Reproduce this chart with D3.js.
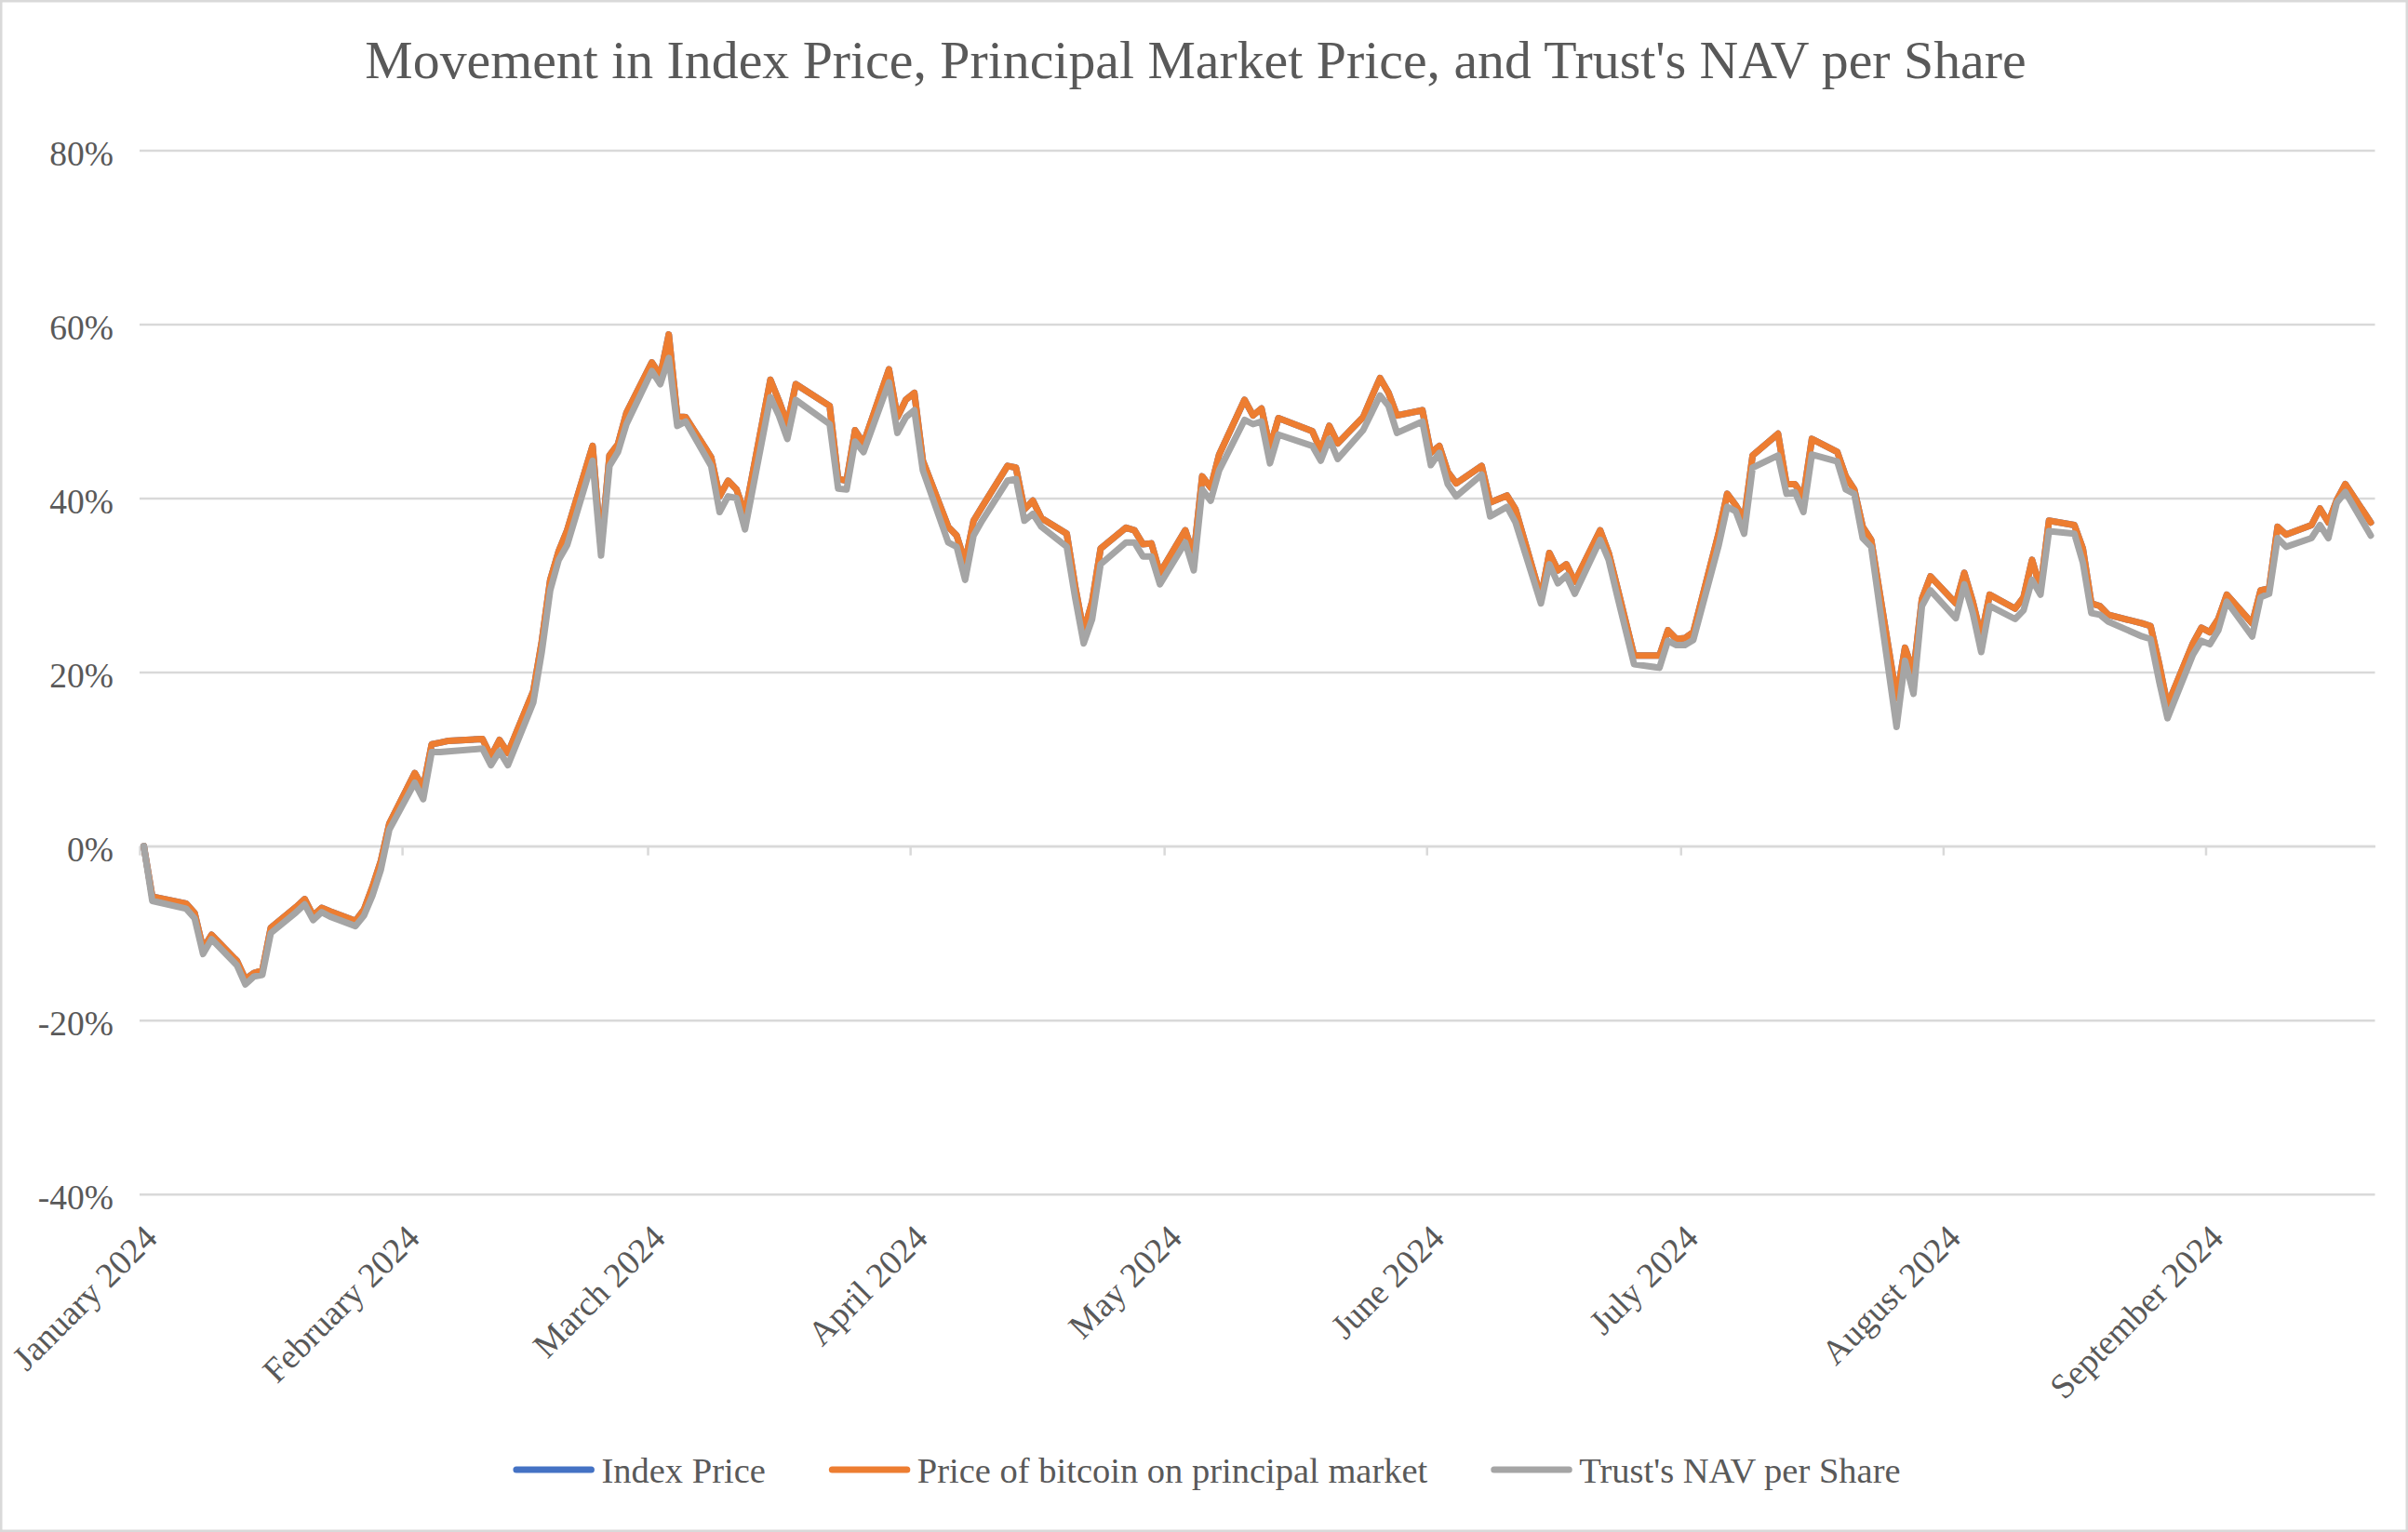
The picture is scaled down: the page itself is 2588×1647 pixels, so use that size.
<!DOCTYPE html>
<html><head><meta charset="utf-8">
<script src="https://cdn.jsdelivr.net/npm/d3@7"></script>
<style>html,body{margin:0;padding:0;background:#fff;} svg{display:block;}</style>
</head><body>
<script>
const dates = [
"2024-01-11","2024-01-12","2024-01-16","2024-01-17","2024-01-18","2024-01-19","2024-01-22","2024-01-23","2024-01-24","2024-01-25","2024-01-26","2024-01-29","2024-01-30","2024-01-31",
"2024-02-01","2024-02-02","2024-02-05","2024-02-06","2024-02-07","2024-02-08","2024-02-09","2024-02-12","2024-02-13","2024-02-14","2024-02-15","2024-02-16","2024-02-20","2024-02-21","2024-02-22","2024-02-23","2024-02-26","2024-02-27","2024-02-28","2024-02-29",
"2024-03-01","2024-03-04","2024-03-05","2024-03-06","2024-03-07","2024-03-08","2024-03-11","2024-03-12","2024-03-13","2024-03-14","2024-03-15","2024-03-18","2024-03-19","2024-03-20","2024-03-21","2024-03-22","2024-03-25","2024-03-26","2024-03-27","2024-03-28",
"2024-04-01","2024-04-02","2024-04-03","2024-04-04","2024-04-05","2024-04-08","2024-04-09","2024-04-10","2024-04-11","2024-04-12","2024-04-15","2024-04-16","2024-04-17","2024-04-18","2024-04-19","2024-04-22","2024-04-23","2024-04-24","2024-04-25","2024-04-26","2024-04-29","2024-04-30",
"2024-05-01","2024-05-02","2024-05-03","2024-05-06","2024-05-07","2024-05-08","2024-05-09","2024-05-10","2024-05-13","2024-05-14","2024-05-15","2024-05-16","2024-05-17","2024-05-20","2024-05-21","2024-05-22","2024-05-23","2024-05-24","2024-05-28","2024-05-29","2024-05-30","2024-05-31",
"2024-06-03","2024-06-04","2024-06-05","2024-06-06","2024-06-07","2024-06-10","2024-06-11","2024-06-12","2024-06-13","2024-06-14","2024-06-17","2024-06-18","2024-06-20","2024-06-21","2024-06-24","2024-06-25","2024-06-26","2024-06-27","2024-06-28",
"2024-07-01","2024-07-02","2024-07-03","2024-07-05","2024-07-08","2024-07-09","2024-07-10","2024-07-11","2024-07-12","2024-07-15","2024-07-16","2024-07-17","2024-07-18","2024-07-19","2024-07-22","2024-07-23","2024-07-24","2024-07-25","2024-07-26","2024-07-29","2024-07-30","2024-07-31",
"2024-08-01","2024-08-02","2024-08-05","2024-08-06","2024-08-07","2024-08-08","2024-08-09","2024-08-12","2024-08-13","2024-08-14","2024-08-15","2024-08-16","2024-08-19","2024-08-20","2024-08-21","2024-08-22","2024-08-23","2024-08-26","2024-08-27","2024-08-28","2024-08-29","2024-08-30",
"2024-09-03","2024-09-04","2024-09-05","2024-09-06","2024-09-09","2024-09-10","2024-09-11","2024-09-12","2024-09-13","2024-09-16","2024-09-17","2024-09-18","2024-09-19","2024-09-20","2024-09-23","2024-09-24","2024-09-25","2024-09-26","2024-09-27","2024-09-30"
];

const principalMarket = [
0,-5.8,-6.6,-7.7,-11.8,-10.2,-13.2,-15.3,-14.6,-14.3,-9.4,-7.0,-6.1,-8.0,
-7.1,-7.5,-8.6,-7.3,-4.7,-1.7,2.6,8.4,6.7,11.7,11.9,12.1,12.3,10.3,12.2,10.7,17.8,23.5,30.6,33.9,
36.3,46.0,34.2,44.9,46.2,49.8,55.6,54.1,58.8,49.4,49.3,44.7,40.2,42.0,41.0,38.2,53.6,51.2,48.5,53.1,
50.6,42.2,42.0,47.8,46.3,54.8,49.3,51.3,52.1,44.3,36.7,35.7,32.6,37.4,39.0,43.7,43.5,38.7,39.7,37.7,35.9,29.8,
24.6,28.1,34.2,36.6,36.3,34.7,34.8,31.4,36.3,33.4,42.5,41.2,45.0,51.3,49.5,50.3,45.8,49.2,47.7,45.5,48.3,46.3,
49.3,51.6,53.8,52.1,49.5,50.1,45.2,46.0,43.0,41.7,43.7,39.5,40.3,38.7,28.6,33.7,31.7,32.4,30.4,
36.3,33.7,29.8,21.9,21.9,24.8,23.8,23.9,24.6,36.0,40.5,39.2,37.6,44.9,47.4,41.6,41.6,40.2,46.8,45.3,42.5,41.0,
36.7,35.2,17.0,22.8,20.0,28.4,31.0,27.9,31.4,28.1,24.1,28.9,27.3,28.6,32.9,29.6,37.4,36.9,34.2,27.9,27.6,26.6,
25.6,25.3,21.0,16.2,23.3,25.1,24.6,26.1,28.9,25.6,29.4,29.6,36.7,35.8,36.9,38.8,37.2,39.8,41.6,37.2
];

const indexPrice = [
0,-5.8,-6.6,-7.7,-11.8,-10.2,-13.2,-15.3,-14.6,-14.3,-9.4,-7.0,-6.1,-8.0,
-7.1,-7.5,-8.6,-7.3,-4.7,-1.7,2.6,8.4,6.7,11.7,11.9,12.1,12.3,10.3,12.2,10.7,17.8,23.5,30.6,33.9,
36.3,46.0,34.2,44.9,46.2,49.8,55.6,54.1,58.8,49.4,49.3,44.7,40.2,42.0,41.0,38.2,53.6,51.2,48.5,53.1,
50.6,42.2,42.0,47.8,46.3,54.8,49.3,51.3,52.1,44.3,36.7,35.7,32.6,37.4,39.0,43.7,43.5,38.7,39.7,37.7,35.9,29.8,
24.6,28.1,34.2,36.6,36.3,34.7,34.8,31.4,36.3,33.4,42.5,41.2,45.0,51.3,49.5,50.3,45.8,49.2,47.7,45.5,48.3,46.3,
49.3,51.6,53.8,52.1,49.5,50.1,45.2,46.0,43.0,41.7,43.7,39.5,40.3,38.7,28.6,33.7,31.7,32.4,30.4,
36.3,33.7,29.8,21.9,21.9,24.8,23.8,23.9,24.6,36.0,40.5,39.2,37.6,44.9,47.4,41.6,41.6,40.2,46.8,45.3,42.5,41.0,
36.7,35.2,17.0,22.8,20.0,28.4,31.0,27.9,31.4,28.1,24.1,28.9,27.3,28.6,32.9,29.6,37.4,36.9,34.2,27.9,27.6,26.6,
25.6,25.3,21.0,16.2,23.3,25.1,24.6,26.1,28.9,25.6,29.4,29.6,36.7,35.8,36.9,38.8,37.2,39.8,41.6,37.2
];

const navPerShare = [
0,-6.3,-7.2,-8.3,-12.4,-10.7,-13.7,-15.9,-15.0,-14.8,-10.0,-7.6,-6.7,-8.5,
-7.6,-8.1,-9.2,-8.0,-5.7,-2.7,1.9,7.3,5.4,10.8,10.8,10.9,11.2,9.3,10.9,9.3,16.5,22.3,29.4,32.9,
34.6,44.3,33.4,43.7,45.3,48.5,54.6,53.1,56.1,48.3,48.8,43.7,38.4,40.2,40.0,36.4,51.6,49.5,46.8,51.3,
48.5,41.1,41.0,46.5,45.3,53.3,47.5,49.3,50.1,43.2,34.9,34.4,30.6,35.7,37.4,42.0,42.2,37.4,38.2,36.7,34.4,28.5,
23.3,26.1,32.4,34.9,34.9,33.3,33.3,30.1,34.9,31.7,41.0,39.7,43.2,49.0,48.5,48.8,44.0,47.3,46.0,44.3,46.8,44.5,
47.8,49.8,51.8,50.6,47.5,48.8,43.8,45.2,41.6,40.2,42.7,37.9,39.0,37.2,27.9,32.4,30.2,31.1,29.0,
35.2,32.9,28.8,20.9,20.5,23.6,23.1,23.1,23.7,34.6,39.0,38.5,35.9,43.5,44.9,40.5,40.7,38.4,45.0,44.2,41.0,40.5,
35.4,34.4,13.7,21.3,17.5,27.6,29.4,26.2,30.1,26.8,22.3,27.6,26.1,27.1,30.6,28.9,36.2,35.9,32.6,26.8,26.6,25.8,
24.1,23.8,19.0,14.7,22.0,23.6,23.2,24.8,28.1,24.1,28.6,29.0,35.4,34.4,35.4,36.9,35.4,39.5,40.7,35.7
];

const yTicks = [-40, -20, 0, 20, 40, 60, 80];
const xTickDates = ["2024-01-11","2024-02-11","2024-03-11","2024-04-11","2024-05-11","2024-06-11","2024-07-11","2024-08-11","2024-09-11"];
const xTickLabels = ["January 2024","February 2024","March 2024","April 2024","May 2024","June 2024","July 2024","August 2024","September 2024"];
const seriesNames = ["Index Price","Price of bitcoin on principal market","Trust's NAV per Share"];
const seriesColors = ["#4472C4","#ED7D31","#A5A5A5"];
const titleText = "Movement in Index Price, Principal Market Price, and Trust's NAV per Share";

const W = 2588, H = 1647;
const FONT = "'Liberation Serif','Times New Roman',serif";
const TEXT = "#595959", GRID = "#d9d9d9";
const parse = d3.utcParse("%Y-%m-%d");

const svg = d3.select("body").append("svg").attr("width", W).attr("height", H)
  .style("font-family", FONT);

svg.append("rect").attr("x", 1.25).attr("y", 1.25).attr("width", W - 2.5).attr("height", H - 2.5)
  .attr("fill", "#fff").attr("stroke", GRID).attr("stroke-width", 2.5);

const plotL = 150, plotR = 2552.5;
const x = d3.scaleUtc().domain([parse("2024-01-11"), parse("2024-10-01")]).range([plotL, plotR]);
const y = d3.scaleLinear().domain([-40, 80]).range([1283.7, 161.4]);

// title
svg.append("text").attr("x", 1285).attr("y", 84).attr("text-anchor", "middle")
  .attr("font-size", 57.8).attr("fill", TEXT).text(titleText);

// y axis with gridlines
const yAxis = d3.axisLeft(y).tickValues(yTicks).tickFormat(d => d + "%")
  .tickSize(-(plotR - plotL)).tickPadding(28);
const gy = svg.append("g").attr("transform", `translate(${plotL},0)`).call(yAxis);
gy.select(".domain").remove();
gy.selectAll(".tick line").attr("stroke", GRID).attr("stroke-width", 2.5);
gy.selectAll(".tick text").attr("fill", TEXT).attr("font-size", 37.5).attr("font-family", FONT).attr("dy", "0.43em");

// x axis line at 0 with ticks
const tickDates = xTickDates.map(parse);
const xAxis = d3.axisBottom(x).tickValues(tickDates).tickFormat("").tickSize(10).tickSizeOuter(0);
const gx = svg.append("g").attr("transform", `translate(0,${y(0)})`).call(xAxis);
gx.select(".domain").attr("stroke", GRID).attr("stroke-width", 2.5);
gx.selectAll(".tick line").attr("stroke", GRID).attr("stroke-width", 2.5);

// rotated x labels
svg.append("g").selectAll("text").data(tickDates).join("text")
  .attr("transform", (d) => `translate(${x(d) + 21},1333) rotate(-45)`)
  .attr("text-anchor", "end").attr("font-size", 37.5).attr("fill", TEXT)
  .text((d, i) => xTickLabels[i]);

// lines
const pts = dates.map(s => d3.utcHour.offset(parse(s), 12));
const line = d3.line().x((v, i) => x(pts[i])).y(v => y(v));
const seriesData = [indexPrice, principalMarket, navPerShare];
svg.append("g").selectAll("path").data(seriesData).join("path")
  .attr("d", line).attr("fill", "none")
  .attr("stroke", (d, i) => seriesColors[i]).attr("stroke-width", 7)
  .attr("stroke-linejoin", "round").attr("stroke-linecap", "round");

// legend
const lg = svg.append("g");
const items = lg.selectAll("g").data(seriesNames).join("g");
items.append("line").attr("x1", 3.5).attr("x2", 84).attr("y1", 1580).attr("y2", 1580)
  .attr("stroke", (d, i) => seriesColors[i]).attr("stroke-width", 7).attr("stroke-linecap", "round");
items.append("text").attr("x", 95).attr("y", 1594).attr("font-size", 38.5).attr("fill", TEXT).text(d => d);
let cx = 0; const widths = [];
items.each(function () { widths.push(95 + d3.select(this).select("text").node().getComputedTextLength()); });
const gap = 68;
const total = d3.sum(widths) + gap * (widths.length - 1);
cx = 1297 - total / 2;
items.attr("transform", (d, i) => { const t = `translate(${cx},0)`; cx += widths[i] + gap; return t; });
</script>
</body></html>
